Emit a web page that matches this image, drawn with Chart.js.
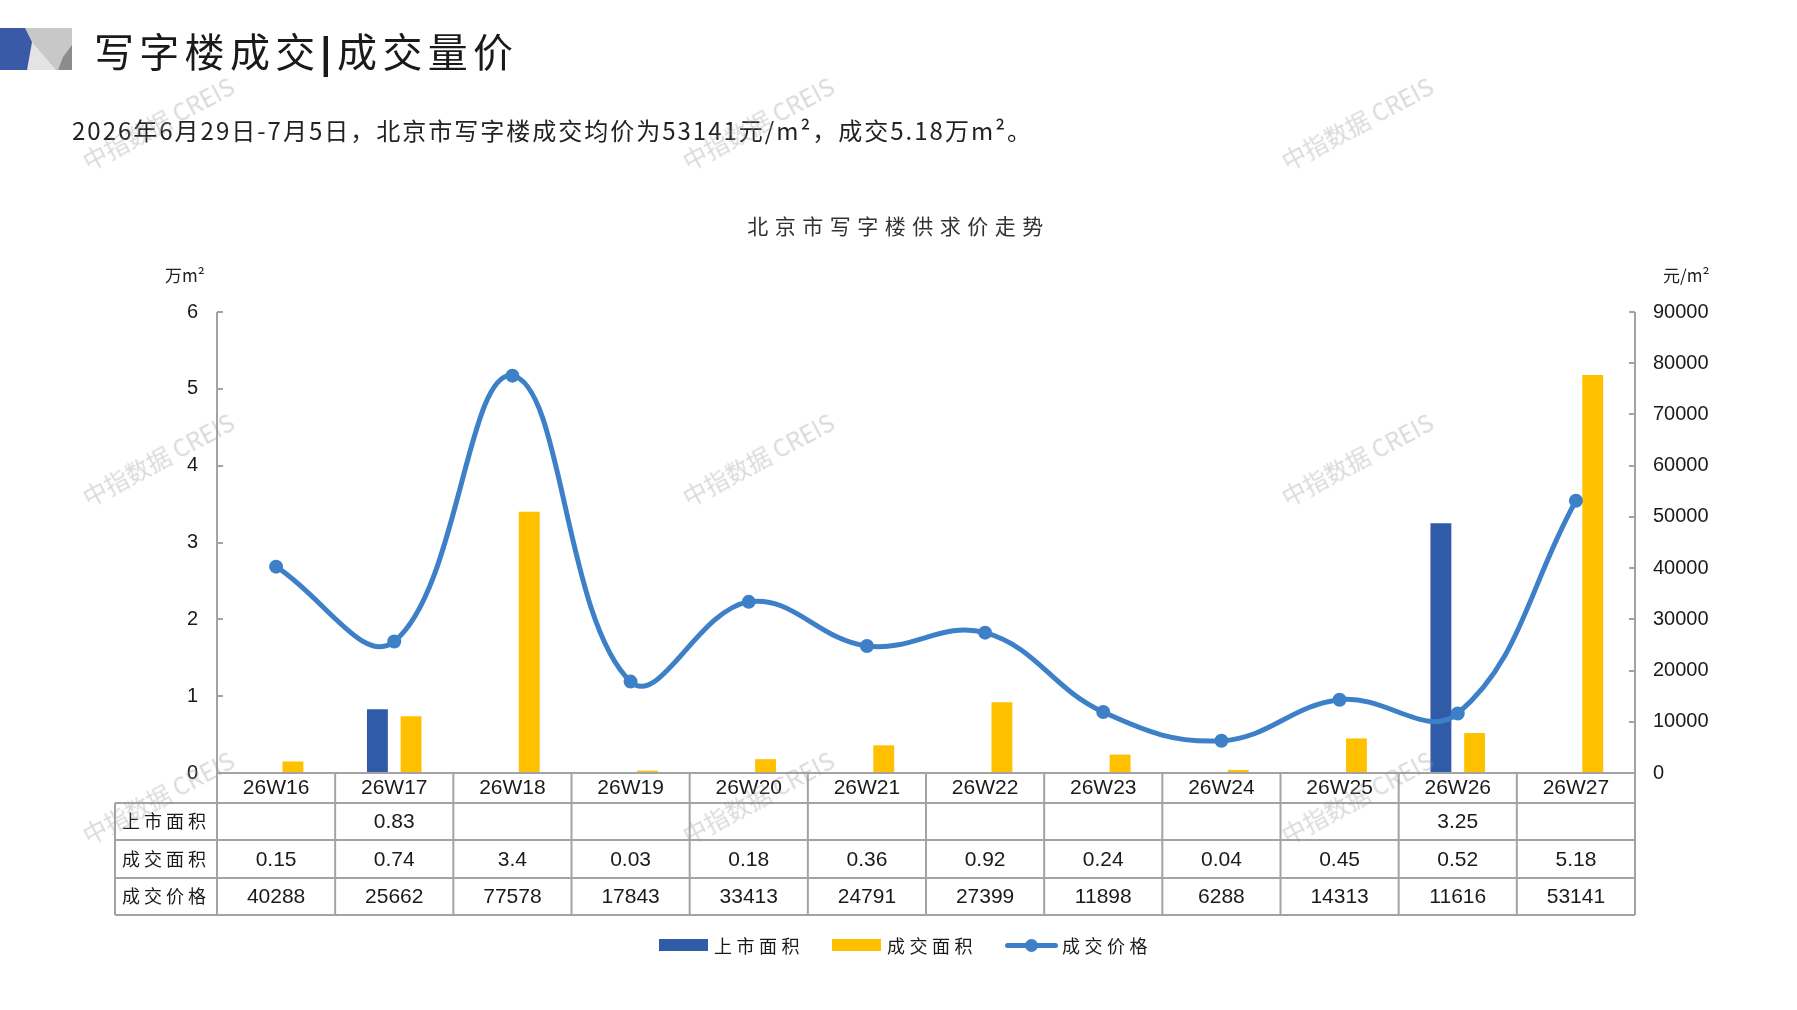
<!DOCTYPE html>
<html lang="zh-CN">
<head>
<meta charset="utf-8">
<title>北京市写字楼供求价走势</title>
<script src="https://cdn.jsdelivr.net/npm/chart.js@4.4.1/dist/chart.umd.min.js"></script>
<style>
  html, body { margin: 0; padding: 0; background: #fff; }
  body {
    width: 1797px; height: 1010px; position: relative; overflow: hidden;
    font-family: "Noto Sans CJK SC", sans-serif; color: #1a1a1a;
  }
  #chart { position: absolute; left: 0; top: 0; }
  #logo { position: absolute; left: 0; top: 28px; }
  #head {
    position: absolute; left: 94px; top: 22px; white-space: nowrap;
    font-size: 40px; line-height: 56px; letter-spacing: 5.3px;
  }
  #head .sep { font-family: "DejaVu Sans", sans-serif; font-weight: bold; margin: 0 4px 0 -2px; letter-spacing: 0; }
  #sub {
    position: absolute; left: 72px; top: 113px; white-space: nowrap;
    font-size: 24px; line-height: 34px; letter-spacing: 2px; color: #222;
  }
  #ctitle {
    position: absolute; left: 0; top: 210px; width: 1797px; text-align: center;
    font-size: 21px; line-height: 30px; letter-spacing: 6.5px; color: #333;
  }
  .unit { position: absolute; top: 262px; font-size: 17px; line-height: 26px; white-space: nowrap; color: #222; }
  #unitL { left: 165px; }
  #unitR { left: 1663px; }
  #legend {
    position: absolute; left: 659px; top: 932px; height: 26px;
    display: flex; align-items: center; font-size: 18px; letter-spacing: 4.5px; white-space: nowrap;
  }
  #legend .item { display: flex; align-items: center; margin-right: 28px; }
  #legend .box { width: 49px; height: 12px; margin-right: 6px; }
  #legend .ln { width: 53px; height: 5px; border-radius: 3px; position: relative; margin-right: 4px; }
  #legend .ln i { position: absolute; left: 20px; top: -4px; width: 13px; height: 13px; border-radius: 50%; background: inherit; }
  .wm {
    position: absolute; width: 240px; margin-left: -120px; text-align: center;
    font-size: 24px; line-height: 30px; color: rgba(150, 150, 150, 0.35);
    transform: rotate(-28deg); pointer-events: none; white-space: nowrap;
  }
</style>
</head>
<body>
<canvas id="chart" width="1797" height="1010"></canvas>

<svg id="logo" width="72" height="42" viewBox="0 0 72 42">
  <rect x="0" y="0" width="72" height="42" fill="#c8c8c8"/>
  <polygon points="32,14 56,42 26,42" fill="#e4e4e4"/>
  <polygon points="63,29 72,17 72,42 58,42" fill="#8c8c8c"/>
  <polygon points="0,0 25,0 32,14 27,42 0,42" fill="#3a5aa8"/>
</svg>
<div id="head">写字楼成交<span class="sep">|</span>成交量价</div>
<div id="sub">2026年6月29日-7月5日，北京市写字楼成交均价为53141元/m²，成交5.18万m²。</div>
<div id="ctitle">北京市写字楼供求价走势</div>
<div class="unit" id="unitL">万m²</div>
<div class="unit" id="unitR">元/m²</div>
<div id="legend"></div>

<script>
// 数据
const weeks = ["26W16", "26W17", "26W18", "26W19", "26W20", "26W21", "26W22", "26W23", "26W24", "26W25", "26W26", "26W27"];
const listedArea = [null, 0.83, null, null, null, null, null, null, null, null, 3.25, null];
const dealArea = [0.15, 0.74, 3.4, 0.03, 0.18, 0.36, 0.92, 0.24, 0.04, 0.45, 0.52, 5.18];
const dealPrice = [40288, 25662, 77578, 17843, 33413, 24791, 27399, 11898, 6288, 14313, 11616, 53141];

const areaTicks = [0, 1, 2, 3, 4, 5, 6];
const priceTicks = [0, 10000, 20000, 30000, 40000, 50000, 60000, 70000, 80000, 90000];

const seriesNames = ["上市面积", "成交面积", "成交价格"];
const seriesColors = ["#2f5ba7", "#ffc000", "#3d80c8"];

const gridColor = "#a3a3a3";
const numFont = '"Liberation Sans Narrow", "Liberation Sans", sans-serif';
const cjkFont = '"Noto Sans CJK SC", sans-serif';

// watermarks
[[158, 123], [758, 123], [1357, 123], [158, 459], [758, 459], [1357, 459], [158, 797], [758, 797], [1357, 797]].forEach((p) => {
  const d = document.createElement("div");
  d.className = "wm";
  d.textContent = "中指数据 CREIS";
  d.style.left = p[0] + "px";
  d.style.top = p[1] - 15 + "px";
  document.body.appendChild(d);
});

// legend
const legend = document.getElementById("legend");
seriesNames.forEach((name, i) => {
  const item = document.createElement("div");
  item.className = "item";
  const key = document.createElement("span");
  if (i < 2) {
    key.className = "box";
  } else {
    key.className = "ln";
    key.appendChild(document.createElement("i"));
  }
  key.style.background = seriesColors[i];
  item.appendChild(key);
  item.appendChild(document.createTextNode(name));
  legend.appendChild(item);
});

// 表格 + 坐标轴刻度
const tablePlugin = {
  id: "dataTable",
  afterDraw(chart) {
    const { ctx, chartArea: a, scales } = chart;
    const x = scales.x;
    const tableLeft = 115;
    const rowY = [a.bottom, a.bottom + 30, a.bottom + 67, a.bottom + 105, a.bottom + 142];
    const edges = [a.left];
    for (let i = 0; i < weeks.length - 1; i++) {
      edges.push((x.getPixelForValue(i) + x.getPixelForValue(i + 1)) / 2);
    }
    edges.push(a.right);

    ctx.save();
    ctx.strokeStyle = gridColor;
    ctx.lineWidth = 2;
    ctx.beginPath();
    // axis lines
    ctx.moveTo(a.left, a.top);
    ctx.lineTo(a.left, a.bottom);
    ctx.moveTo(a.right, a.top);
    ctx.lineTo(a.right, a.bottom);
    // tick marks (inside)
    scales.y.ticks.forEach((t) => {
      const py = Math.round(scales.y.getPixelForValue(t.value));
      ctx.moveTo(a.left, py);
      ctx.lineTo(a.left + 6, py);
    });
    scales.y1.ticks.forEach((t) => {
      const py = Math.round(scales.y1.getPixelForValue(t.value));
      ctx.moveTo(a.right, py);
      ctx.lineTo(a.right - 6, py);
    });
    // table grid
    ctx.moveTo(a.left, rowY[0]);
    ctx.lineTo(a.right, rowY[0]);
    for (let r = 1; r < rowY.length; r++) {
      ctx.moveTo(tableLeft, rowY[r]);
      ctx.lineTo(a.right, rowY[r]);
    }
    edges.forEach((ex) => {
      ctx.moveTo(ex, rowY[0]);
      ctx.lineTo(ex, rowY[4]);
    });
    ctx.moveTo(tableLeft, rowY[1]);
    ctx.lineTo(tableLeft, rowY[4]);
    ctx.stroke();

    // row labels
    ctx.fillStyle = "#1a1a1a";
    ctx.textBaseline = "middle";
    ctx.textAlign = "left";
    ctx.font = "18px " + cjkFont;
    ctx.letterSpacing = "4px";
    seriesNames.forEach((name, r) => {
      ctx.fillText(name, tableLeft + 7, (rowY[r + 1] + rowY[r + 2]) / 2);
    });
    ctx.letterSpacing = "0px";

    // cells
    ctx.textAlign = "center";
    ctx.font = "21px " + numFont;
    [listedArea, dealArea, dealPrice].forEach((vals, r) => {
      const cy = (rowY[r + 1] + rowY[r + 2]) / 2 + 1;
      vals.forEach((v, i) => {
        if (v === null) return;
        ctx.fillText(String(v), x.getPixelForValue(i), cy);
      });
    });
    ctx.restore();
  },
};

Chart.defaults.font.family = '"Liberation Sans", sans-serif';
Chart.defaults.color = "#1a1a1a";

new Chart(document.getElementById("chart").getContext("2d"), {
  type: "bar",
  data: {
    labels: weeks,
    datasets: [
      {
        type: "bar",
        label: seriesNames[0],
        data: listedArea,
        backgroundColor: seriesColors[0],
        yAxisID: "y",
        order: 2,
        categoryPercentage: 0.57,
        barPercentage: 0.62,
      },
      {
        type: "bar",
        label: seriesNames[1],
        data: dealArea,
        backgroundColor: seriesColors[1],
        yAxisID: "y",
        order: 2,
        categoryPercentage: 0.57,
        barPercentage: 0.62,
      },
      {
        type: "line",
        label: seriesNames[2],
        data: dealPrice,
        borderColor: seriesColors[2],
        backgroundColor: seriesColors[2],
        borderWidth: 5,
        pointRadius: 7,
        pointBorderWidth: 0,
        pointBackgroundColor: seriesColors[2],
        tension: 0.4,
        yAxisID: "y1",
        order: 1,
      },
    ],
  },
  options: {
    responsive: false,
    animation: false,
    layout: { padding: { top: 312, left: 0, right: 0, bottom: 95 } },
    plugins: {
      legend: { display: false },
      title: { display: false },
      tooltip: { enabled: false },
    },
    scales: {
      x: {
        offset: true,
        grid: { display: false, drawTicks: false, tickLength: 0 },
        border: { display: false },
        ticks: { font: { family: numFont, size: 21 }, padding: 3, maxRotation: 0 },
        afterFit(s) { s.height = 142; },
      },
      y: {
        position: "left",
        min: 0,
        max: 6,
        afterBuildTicks(s) { s.ticks = areaTicks.map((v) => ({ value: v })); },
        grid: { display: false, drawTicks: false, tickLength: 0 },
        border: { display: false },
        ticks: { font: { size: 20 }, padding: 19, callback: (v) => String(v) },
        afterFit(s) { s.width = 217; },
      },
      y1: {
        position: "right",
        min: 0,
        max: 90000,
        afterBuildTicks(s) { s.ticks = priceTicks.map((v) => ({ value: v })); },
        grid: { display: false, drawTicks: false, tickLength: 0 },
        border: { display: false },
        ticks: { font: { size: 20 }, padding: 18, callback: (v) => String(v) },
        afterFit(s) { s.width = 162; },
      },
    },
  },
  plugins: [tablePlugin],
});
</script>
</body>
</html>
